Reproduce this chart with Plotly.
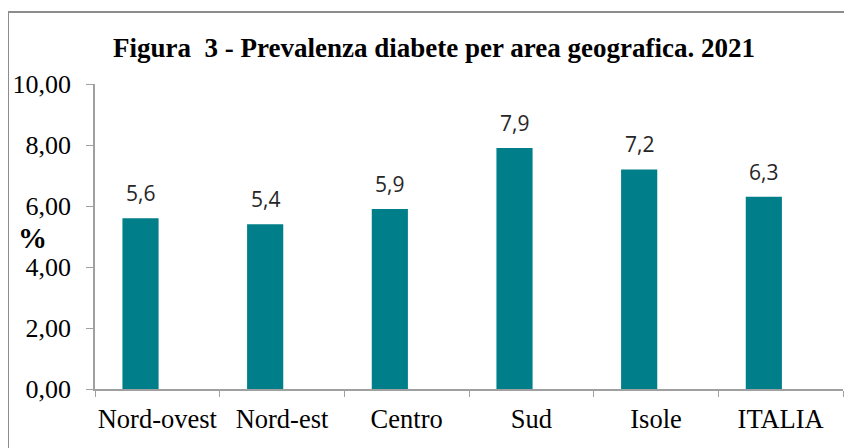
import plotly.graph_objects as go

aree = ['Nord-ovest', 'Nord-est', 'Centro', 'Sud', 'Isole', 'ITALIA']
prevalenza = [5.6, 5.4, 5.9, 7.9, 7.2, 6.3]
etichette = ['5,6', '5,4', '5,9', '7,9', '7,2', '6,3']

# page has an 8px body margin, so the figure is drawn 8px smaller and shifted
W, H = 844, 440
L, R, T, B = 87, 9, 76, 59
pw, ph = W - L - R, H - T - B
cat_w = pw / len(aree)

# bars sit left of the category centre, as in the original
bar_w = 0.29
bar_off = -0.28
shift_px = (bar_off + bar_w / 2) * cat_w

fig = go.Figure()
fig.add_trace(go.Bar(x=aree, y=prevalenza, marker_color='#007E8A',
                     marker_line_width=0, width=bar_w, offset=bar_off))

for a, v, t in zip(aree, prevalenza, etichette):
    fig.add_annotation(x=a, y=v, text=t, showarrow=False, yanchor='bottom', yshift=9,
                       xshift=shift_px,
                       font=dict(family='Open Sans', size=21, color='#262626'))

fig.add_annotation(text='<b>%</b>', showarrow=False, xref='paper', yref='paper',
                   x=(24 - L) / pw, y=(H - B - 230) / ph, xanchor='center', yanchor='middle',
                   font=dict(family='Liberation Serif', size=29, color='black'))

fig.update_layout(
    width=W, height=H,
    margin=dict(l=L, r=R, t=T, b=B, autoexpand=False),
    paper_bgcolor='white', plot_bgcolor='white',
    separators=',.',
    showlegend=False,
    title=dict(text='<b>Figura  3 - Prevalenza diabete per area geografica. 2021</b>',
               x=426 / W, xanchor='center', y=1 - 40 / H, yanchor='middle',
               font=dict(family='Liberation Serif', size=27, color='black')),
    font=dict(family='Liberation Serif', size=26, color='black'),
)

fig.update_yaxes(range=[0, 10], dtick=2, tickformat='.2f', showgrid=False,
                 showline=True, linecolor='#A0A0A0', linewidth=1.5,
                 ticks='outside', ticklen=7, tickcolor='#A0A0A0',
                 ticklabelstandoff=10, zeroline=False, automargin=False,
                 tickfont=dict(family='Liberation Serif', size=26, color='black'))
fig.update_xaxes(showline=True, linecolor='#A0A0A0', linewidth=1.5,
                 ticks='outside', ticklen=6, tickcolor='#A0A0A0', tickson='boundaries',
                 tickangle=0, automargin=False, ticklabelstandoff=5,
                 tickfont=dict(family='Liberation Serif', size=26.5, color='black'))

# outer chart border (cut off at right and bottom)
fig.add_shape(type='rect', xref='paper', yref='paper',
              x0=(0 - L) / pw, x1=1.2, y0=-0.5, y1=(H - B - 4) / ph,
              line=dict(color='#8C8C8C', width=2), fillcolor='rgba(0,0,0,0)', layer='below')

fig.write_html('out.html')
